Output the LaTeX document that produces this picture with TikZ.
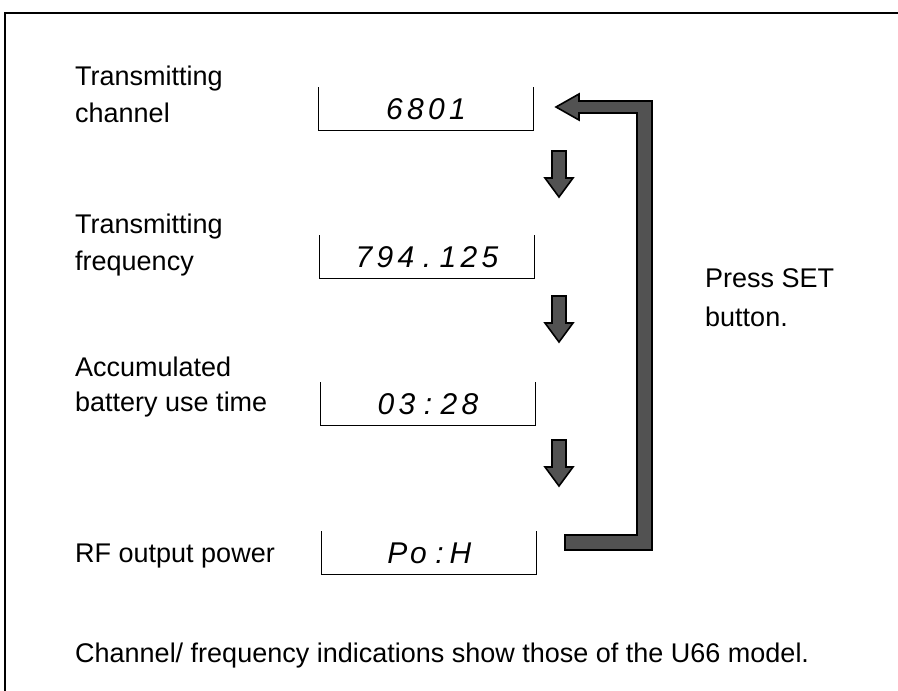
\documentclass[tikz,border=0pt]{standalone}
\usepackage{fontspec}
\setmainfont{Liberation Sans}
\newcommand\lcdcell[1]{\makebox[21pt][c]{#1}}
\def\lcd#1{\lcdloop#1\relax}
\def\lcdloop#1{\ifx#1\relax\else\lcdcell{#1}\expandafter\lcdloop\fi}
\begin{document}
\begin{tikzpicture}[x=1pt,y=-1pt,
  lbl/.style={anchor=base west, inner sep=0pt, font=\fontsize{27}{32}\selectfont},
  display/.style={minimum width=214pt, minimum height=43pt, inner sep=0pt,
                  font=\fontsize{30}{34}\selectfont\itshape},
  boxline/.style={draw=black, line width=1.3pt},
  bigarrow/.style={fill=black!68, draw=black, line width=1.6pt, line join=miter},
  downarrow/.pic={\path[bigarrow] (-7,0) -- (7,0) -- (7,27) -- (14,27) -- (0,46) -- (-14,27) -- (-7,27) -- cycle;}]
\useasboundingbox (0,0) rectangle (898,691);
% frame
\draw[line width=1.4pt] (5,691) -- (5,13) -- (898,13);

% labels
\node[lbl] (l1a) at (75,85) {Transmitting};
\node[lbl] (l1b) at (75,122) {channel};
\node[lbl] (l2a) at (75,233) {Transmitting};
\node[lbl] (l2b) at (75,270) {frequency};
\node[lbl] (l3a) at (75,376) {Accumulated};
\node[lbl] (l3b) at (75,411) {battery use time};
\node[lbl] (l4a) at (75,562) {RF output power};

% displays
\node[display] (d1) at (426,109) {\lcd{6801}};
\node[display] (d2) at (427,257) {\lcd{794.125}};
\node[display] (d3) at (428,404) {\lcd{03:28}};
\node[display] (d4) at (429,553) {\lcd{Po:H}};
\foreach \d in {d1,d2,d3,d4}
  \draw[boxline] (\d.north west) -- (\d.south west) -- (\d.south east) -- (\d.north east);

% down arrows
\pic (a1) at (559,151) {downarrow};
\pic (a2) at (559,296) {downarrow};
\pic (a3) at (559,440) {downarrow};

% return arrow
\coordinate (tip) at (556,107);
\coordinate (corner) at (652,101);
\coordinate (bend) at (652,550);
\coordinate (tail) at (565,550);
\path[bigarrow] (tip) -- (579,94) -- (579,101) -- (corner) -- (bend) -- (tail)
  -- (565,535) -- (637,535) -- (637,113) -- (579,113) -- (579,120) -- cycle;

\node[lbl] (p1) at (705,287) {Press SET};
\node[lbl] (p2) at (705,326) {button.};

\node[lbl] (note) at (75,662) {Channel/ frequency indications show those of the U66 model.};
\end{tikzpicture}
\end{document}
